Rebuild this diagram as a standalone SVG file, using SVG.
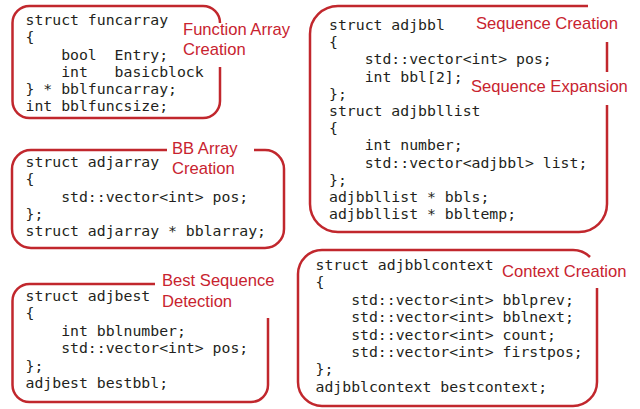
<svg xmlns="http://www.w3.org/2000/svg" width="640" height="409" viewBox="0 0 640 409">
<style>
.box{fill:none;stroke:#c1272d;stroke-width:2.5;stroke-linecap:butt}
.code{font-family:"DejaVu Sans Mono","Liberation Mono",monospace;font-size:14.8px;fill:#231f20;white-space:pre}
.lbl{font-family:"Liberation Sans",Arial,sans-serif;font-size:16.6px;fill:#c8232f}
</style>
<rect width="640" height="409" fill="#ffffff"/>
<g id="funcarray">
<path class="box" d="M220,67 V101 A17,17 0 0 1 203,118 H29.5 A17,17 0 0 1 12.5,101 V23 A17,17 0 0 1 29.5,6 H203 A17,17 0 0 1 220,23"/>
<text class="code" xml:space="preserve"><tspan x="25.5" y="25">struct funcarray</tspan><tspan x="25.5" y="42.3">{</tspan><tspan x="25.5" y="59.5">    bool  Entry;</tspan><tspan x="25.5" y="76.8">    int   basicblock</tspan><tspan x="25.5" y="94">} * bblfuncarray;</tspan><tspan x="25.5" y="111.3">int bblfuncsize;</tspan></text>
<text class="lbl"><tspan x="183" y="35">Function Array</tspan><tspan x="183" y="55">Creation</tspan></text>
</g>
<g id="adjbbl">
<path class="box" d="M607,105 V204 A28,28 0 0 1 579,232 H338 A28,28 0 0 1 310,204 V34 A28,28 0 0 1 338,6 H588"/>
<path class="box" d="M607,42 V72"/>
<text class="code" xml:space="preserve"><tspan x="329" y="30">struct adjbbl</tspan><tspan x="329" y="47.2">{</tspan><tspan x="329" y="64.4">    std::vector&lt;int&gt; pos;</tspan><tspan x="329" y="81.6">    int bbl[2];</tspan><tspan x="329" y="98.8">};</tspan><tspan x="329" y="116">struct adjbbllist</tspan><tspan x="329" y="133.2">{</tspan><tspan x="329" y="150.4">    int number;</tspan><tspan x="329" y="167.6">    std::vector&lt;adjbbl&gt; list;</tspan><tspan x="329" y="184.8">};</tspan><tspan x="329" y="202">adjbbllist * bbls;</tspan><tspan x="329" y="219.2">adjbbllist * bbltemp;</tspan></text>
<text class="lbl"><tspan x="476" y="29">Sequence Creation</tspan><tspan x="471" y="92">Sequence Expansion</tspan></text>
</g>
<g id="adjarray">
<path class="box" d="M167,150 H31 A19,19 0 0 0 12,169 V229 A19,19 0 0 0 31,248 H265 A19,19 0 0 0 284,229 V169 A19,19 0 0 0 265,150 H254"/>
<text class="code" xml:space="preserve"><tspan x="25.5" y="167">struct adjarray</tspan><tspan x="25.5" y="184.25">{</tspan><tspan x="25.5" y="201.5">    std::vector&lt;int&gt; pos;</tspan><tspan x="25.5" y="218.75">};</tspan><tspan x="25.5" y="236">struct adjarray * bblarray;</tspan></text>
<text class="lbl"><tspan x="172" y="154">BB Array</tspan><tspan x="172" y="174">Creation</tspan></text>
</g>
<g id="adjbest">
<path class="box" d="M155,284 H29.5 A17,17 0 0 0 12.5,301 V385 A17,17 0 0 0 29.5,402 H251 A17,17 0 0 0 268,385 V318"/>
<text class="code" xml:space="preserve"><tspan x="25.5" y="301">struct adjbest</tspan><tspan x="25.5" y="318.4">{</tspan><tspan x="25.5" y="335.8">    int bblnumber;</tspan><tspan x="25.5" y="353.2">    std::vector&lt;int&gt; pos;</tspan><tspan x="25.5" y="370.6">};</tspan><tspan x="25.5" y="388">adjbest bestbbl;</tspan></text>
<text class="lbl"><tspan x="162" y="286">Best Sequence</tspan><tspan x="162" y="307">Detection</tspan></text>
</g>
<g id="adjbblcontext">
<path class="box" d="M597,288 V382 A24,24 0 0 1 573,406 H322 A24,24 0 0 1 298,382 V274 A24,24 0 0 1 322,250 H573 A24,24 0 0 1 590,257"/>
<text class="code" xml:space="preserve"><tspan x="315.5" y="270">struct adjbblcontext</tspan><tspan x="315.5" y="287.4">{</tspan><tspan x="315.5" y="304.8">    std::vector&lt;int&gt; bblprev;</tspan><tspan x="315.5" y="322.2">    std::vector&lt;int&gt; bblnext;</tspan><tspan x="315.5" y="339.6">    std::vector&lt;int&gt; count;</tspan><tspan x="315.5" y="357">    std::vector&lt;int&gt; firstpos;</tspan><tspan x="315.5" y="374.4">};</tspan><tspan x="315.5" y="391.8">adjbblcontext bestcontext;</tspan></text>
<text class="lbl"><tspan x="502" y="277">Context Creation</tspan></text>
</g>
<g id="connectors"/>
</svg>
